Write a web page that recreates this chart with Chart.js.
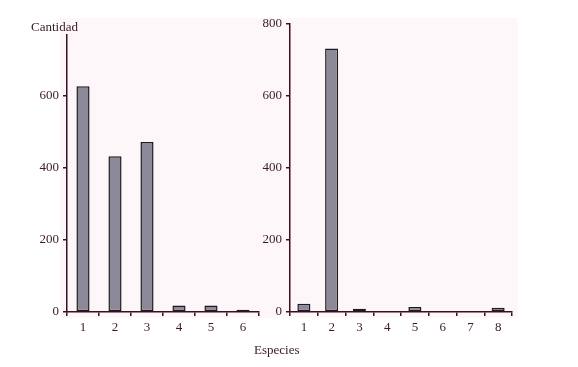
<!DOCTYPE html>
<html>
<head>
<meta charset="utf-8">
<script src="https://cdn.jsdelivr.net/npm/chart.js@4"></script>
<style>
  body { margin: 0; background: #fff; }
  #wrap { position: relative; width: 578px; height: 367px; overflow: hidden; }
  #tint { position: absolute; left: 60px; top: 18px; width: 458px; height: 300px; background: #fdf7fa; }
  canvas { position: absolute; top: 0; }
  .lbl { position: absolute; font-family: "Liberation Serif", serif; font-size: 13px; color: #3a1a2c; }
</style>
</head>
<body>
<div id="wrap">
  <div id="tint"></div>
  <canvas id="leftChart" width="270" height="367" style="left:0px;width:270px;height:367px"></canvas>
  <canvas id="rightChart" width="323" height="367" style="left:255px;width:323px;height:367px"></canvas>
  <div class="lbl" style="left:31px;top:19px">Cantidad</div>
  <div class="lbl" style="left:254px;top:342px">Especies</div>
</div>
<script>
const leftLabels = ['1', '2', '3', '4', '5', '6'];
const leftValues = [625, 431, 471, 18, 18, 6];
const leftTicks = [0, 200, 400, 600];

const rightLabels = ['1', '2', '3', '4', '5', '6', '7', '8'];
const rightValues = [23, 732, 9, 0, 14, 0, 0, 12];
const rightTicks = [0, 200, 400, 600, 800];

const axisColor = '#3a1020';
const textColor = '#3a1a2c';
const fontSpec = { family: '"Liberation Serif", serif', size: 13 };

function makeChart(id, labels, values, tickValues, opts) {
  return new Chart(document.getElementById(id), {
    type: 'bar',
    data: {
      labels,
      datasets: [{
        data: values,
        backgroundColor: '#8c8a98',
        borderColor: '#1e1a1e',
        borderWidth: 1.5,
        borderSkipped: false,
        categoryPercentage: 1,
        barPercentage: opts.barPct
      }]
    },
    options: {
      responsive: false,
      animation: false,
      layout: { padding: { top: opts.top, right: opts.right, left: 0, bottom: 0 } },
      plugins: { legend: { display: false }, tooltip: { enabled: false } },
      scales: {
        x: {
          grid: { display: true, drawOnChartArea: false, drawTicks: true, tickLength: 4, color: axisColor, lineWidth: 1.5, offset: true },
          border: { display: true, color: axisColor, width: 1.5 },
          ticks: { color: textColor, font: fontSpec, padding: 4, maxRotation: 0 },
          afterFit: (s) => { s.height = 55; }
        },
        y: {
          min: 0,
          max: opts.max,
          grid: { display: true, drawOnChartArea: false, drawTicks: true, tickLength: 4, color: axisColor, lineWidth: 1.5 },
          border: { display: true, color: axisColor, width: 1.5 },
          ticks: { color: textColor, font: fontSpec, padding: 4 },
          afterBuildTicks: (s) => { s.ticks = tickValues.map((v) => ({ value: v })); },
          afterFit: (s) => { s.width = opts.yWidth; }
        }
      }
    }
  });
}

makeChart('leftChart', leftLabels, leftValues, leftTicks, { max: 767, top: 35, right: 11, yWidth: 67, barPct: 0.41 });
makeChart('rightChart', rightLabels, rightValues, rightTicks, { max: 800, top: 24, right: 66, yWidth: 35, barPct: 0.47 });
</script>
</body>
</html>
